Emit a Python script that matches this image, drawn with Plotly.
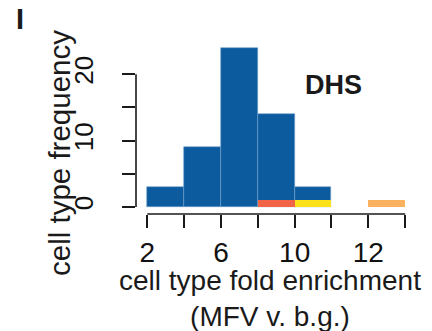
import plotly.graph_objects as go

# histogram bins (edges in bin units of width 2)
bin_edges = [2, 4, 6, 8, 10, 12, 14, 16]
blue_counts = [3, 9, 24, 14, 3, 0, 0]
# highlighted cell types (height 1 each)
red_counts = [0, 0, 0, 1, 0, 0, 0]
yellow_counts = [0, 0, 0, 0, 1, 0, 0]
orange_counts = [0, 0, 0, 0, 0, 0, 1]
x_tick_labels = ["2", "", "6", "", "10", "", "12", ""]
y_tick_vals = [0, 5, 10, 15, 20]
y_tick_labels = ["0", "", "10", "", "20"]

centers = [(a + b) / 2 for a, b in zip(bin_edges[:-1], bin_edges[1:])]
widths = [b - a for a, b in zip(bin_edges[:-1], bin_edges[1:])]


def nz(vals):
    return [v if v else None for v in vals]


FONT = "Liberation Sans"
BLUE = "#0D5B9F"
INK = "#1a1a1a"

fig = go.Figure()
fig.add_trace(go.Bar(x=centers, y=nz(blue_counts), width=widths,
                     marker=dict(color=BLUE, line=dict(color="#6E9FCC", width=0.6))))
for vals, col in [(red_counts, "#F26448"), (yellow_counts, "#FDE21B"),
                  (orange_counts, "#FBB25E")]:
    fig.add_trace(go.Bar(x=centers, y=nz(vals), width=widths,
                         marker=dict(color=col, line=dict(width=0))))

fig.update_layout(
    width=432, height=331,
    margin=dict(l=136, r=25, t=41, b=117, autoexpand=False),
    barmode="overlay",
    bargap=0,
    showlegend=False,
    plot_bgcolor="white", paper_bgcolor="white",
    font=dict(family=FONT, color=INK),
)
fig.update_xaxes(
    range=[1.386, 16.1], showgrid=False, zeroline=False, showline=False,
    tickmode="array", tickvals=bin_edges, ticktext=x_tick_labels,
    ticks="outside", ticklen=13, tickwidth=1.6, tickcolor=INK,
    ticklabelstandoff=0,
    tickfont=dict(size=28, family=FONT, color="#111"),
)
fig.update_yaxes(
    range=[-1.05, 25], showgrid=False, zeroline=False, showline=False,
    tickmode="array", tickvals=y_tick_vals, ticktext=y_tick_labels,
    ticks="outside", ticklen=13, tickwidth=1.6, tickcolor=INK,
    tickangle=-90, ticklabelstandoff=19,
    tickfont=dict(size=26, family=FONT, color="#111"),
)
# R-style axis lines spanning only the tick range
fig.add_shape(type="line", xref="x", yref="paper", x0=bin_edges[0], x1=bin_edges[-1],
              y0=0, y1=0, line=dict(color=INK, width=1.6))
fig.add_shape(type="line", xref="paper", yref="y", x0=0, x1=0,
              y0=y_tick_vals[0], y1=y_tick_vals[-1], line=dict(color=INK, width=1.6))

# axis titles
fig.add_annotation(text="cell type fold enrichment<br>(MFV v. b.g.)",
                   x=(270 - 136) / 271, y=(214 - 298) / 173, xref="paper", yref="paper",
                   xanchor="center", yanchor="middle", showarrow=False,
                   font=dict(size=28, family=FONT, color=INK))
fig.add_annotation(text="cell type frequency", textangle=-90,
                   x=(59 - 136) / 271, y=(214 - 153) / 173, xref="paper", yref="paper",
                   xanchor="center", yanchor="middle", showarrow=False,
                   font=dict(size=29.5, family=FONT, color=INK))

fig.add_annotation(text="<b>DHS</b>", x=12.09, y=18.4, xref="x", yref="y",
                   xanchor="center", yanchor="middle",
                   showarrow=False, font=dict(size=27, family=FONT, color=INK))
fig.add_annotation(text="<b>I</b>", x=(19.7 - 136) / 271, y=(214 - 18.8) / 173,
                   xref="paper", yref="paper", xanchor="center", yanchor="middle",
                   showarrow=False, font=dict(size=29, family=FONT, color=INK))

fig.write_html("out.html", config={"displayModeBar": False},
               post_script="document.body.style.margin='0';")
